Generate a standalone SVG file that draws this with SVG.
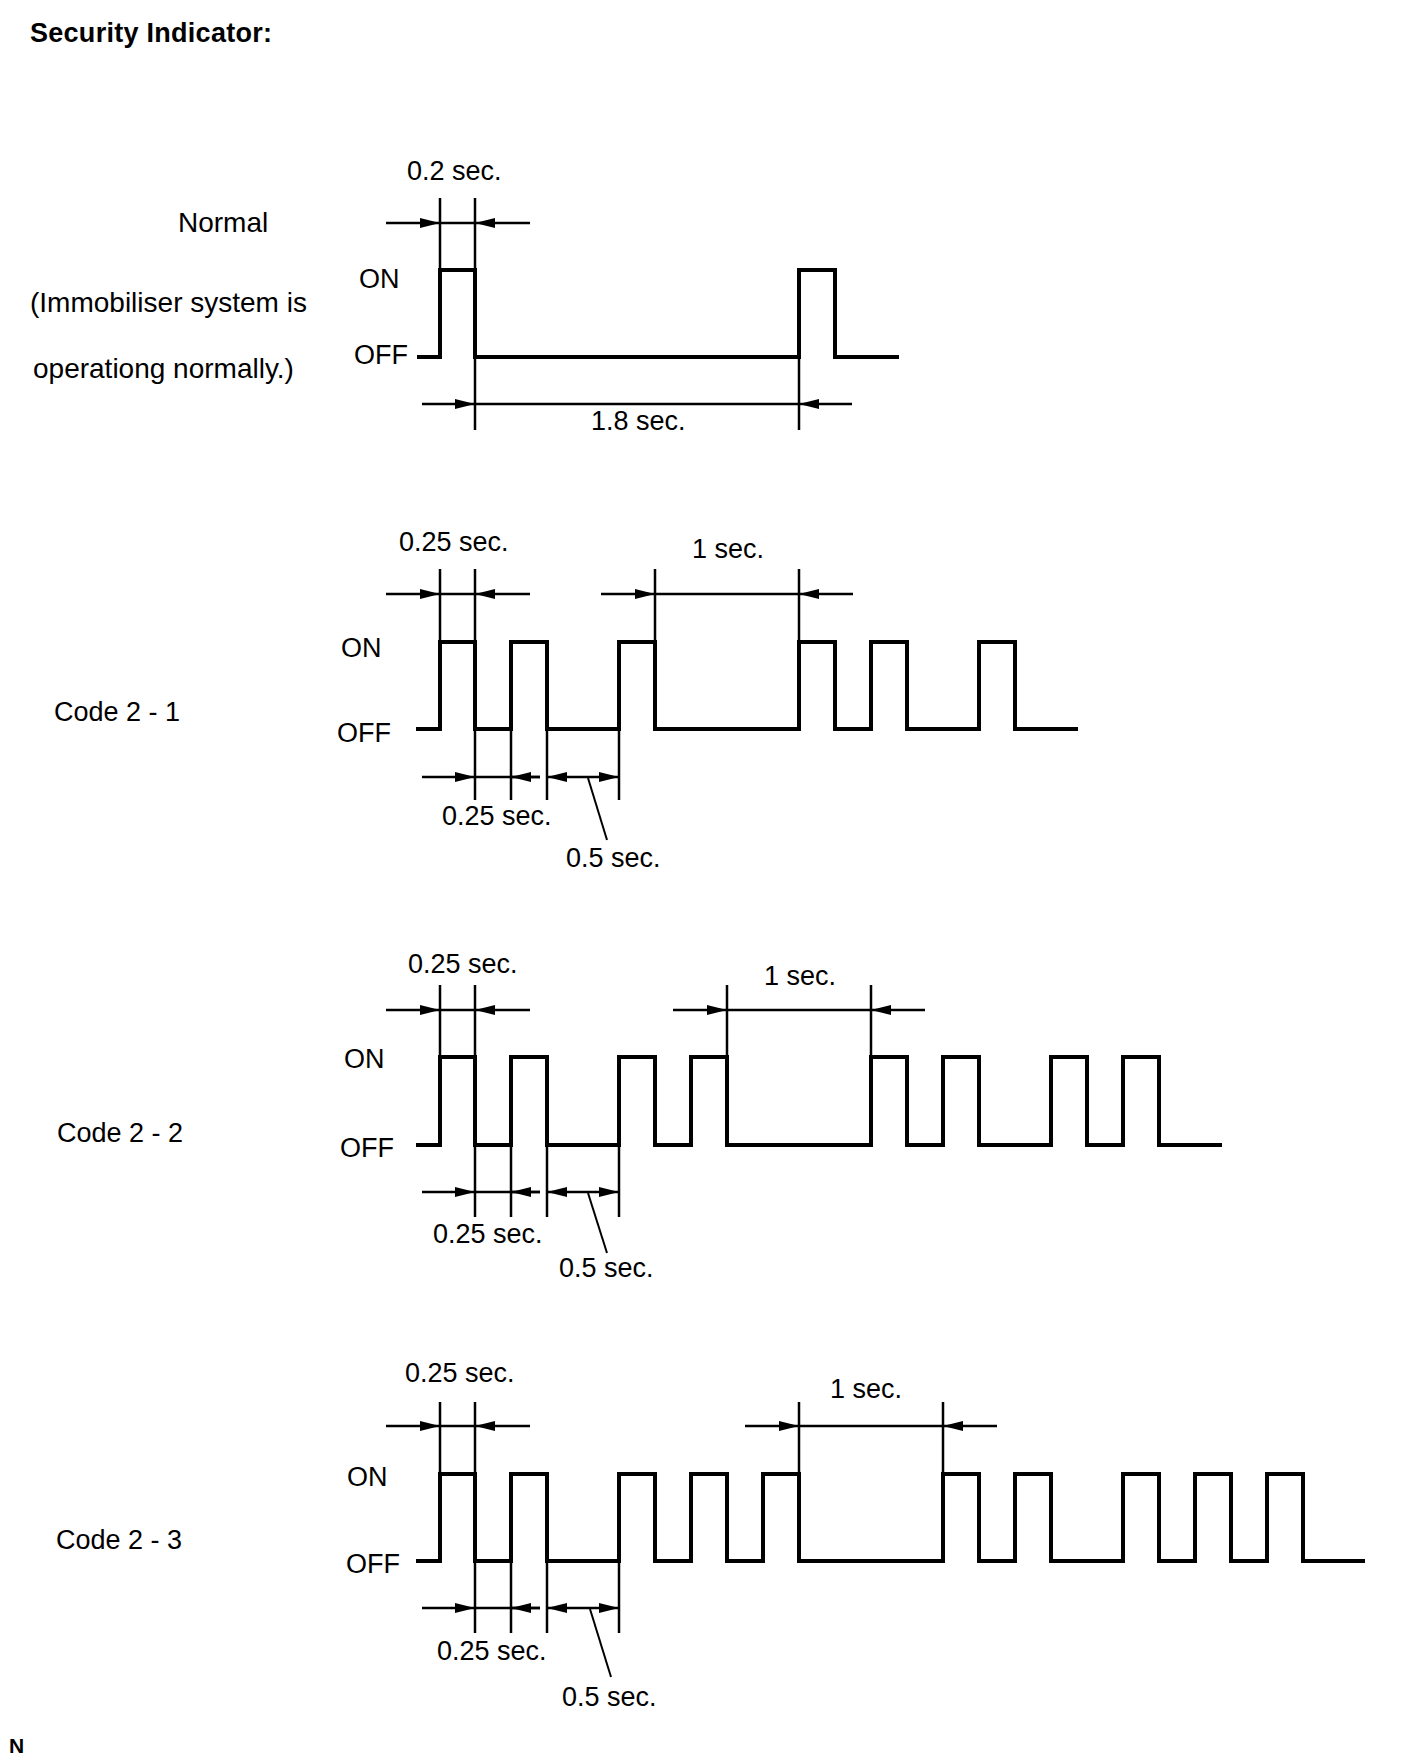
<svg xmlns="http://www.w3.org/2000/svg" width="1424" height="1763" viewBox="0 0 1424 1763">
<style>
text{font-family:"Liberation Sans",Arial,Helvetica,sans-serif;font-size:27px;fill:#000}
.b{font-weight:bold}
.w{fill:none;stroke:#000;stroke-width:4;stroke-linejoin:miter}
.d{fill:none;stroke:#000;stroke-width:2.5}
.a{fill:none;stroke:#000;stroke-width:2.5;marker-end:url(#ah)}
.l{fill:none;stroke:#000;stroke-width:2}
</style>
<defs>
<marker id="ah" markerUnits="userSpaceOnUse" markerWidth="20" markerHeight="10" refX="20" refY="5" orient="auto" viewBox="0 0 20 10">
<path d="M0,0 L20,5 L0,10 z" fill="#000"/>
</marker>
</defs>
<rect width="1424" height="1763" fill="#fff"/>
<text class="b" x="30" y="42" textLength="242">Security Indicator:</text>

<g id="normal">
<text x="178" y="232" style="font-size:28px">Normal</text>
<text x="30" y="312" style="font-size:28px">(Immobiliser system is</text>
<text x="33" y="378" style="font-size:28px">operationg normally.)</text>
<text x="359" y="288">ON</text>
<text x="354" y="364">OFF</text>
<text x="407" y="180">0.2 sec.</text>
<text x="591" y="430">1.8 sec.</text>
<path class="w" d="M417,357 H440 V270 H475 V357 H799 V270 H835 V357 H899"/>
</g>

<g id="code21">
<text x="54" y="721">Code 2 - 1</text>
<text x="341" y="657">ON</text>
<text x="337" y="742">OFF</text>
<text x="399" y="551">0.25 sec.</text>
<text x="692" y="558">1 sec.</text>
<text x="442" y="825">0.25 sec.</text>
<text x="566" y="867">0.5 sec.</text>
<path class="w" d="M416,729 H440 V642 H475 V729 H511 V642 H547 V729 H619 V642 H655 V729 H799 V642 H835 V729 H871 V642 H907 V729 H979 V642 H1015 V729 H1078"/>
</g>

<g id="code22">
<text x="57" y="1142">Code 2 - 2</text>
<text x="344" y="1068">ON</text>
<text x="340" y="1157">OFF</text>
<text x="408" y="973">0.25 sec.</text>
<text x="764" y="985">1 sec.</text>
<text x="433" y="1243">0.25 sec.</text>
<text x="559" y="1277">0.5 sec.</text>
<path class="w" d="M416,1145 H440 V1057 H475 V1145 H511 V1057 H547 V1145 H619 V1057 H655 V1145 H691 V1057 H727 V1145 H871 V1057 H907 V1145 H943 V1057 H979 V1145 H1051 V1057 H1087 V1145 H1123 V1057 H1159 V1145 H1222"/>
</g>

<g id="code23">
<text x="56" y="1549">Code 2 - 3</text>
<text x="347" y="1486">ON</text>
<text x="346" y="1573">OFF</text>
<text x="405" y="1382">0.25 sec.</text>
<text x="830" y="1398">1 sec.</text>
<text x="437" y="1660">0.25 sec.</text>
<text x="562" y="1706">0.5 sec.</text>
<path class="w" d="M416,1561 H440 V1474 H475 V1561 H511 V1474 H547 V1561 H619 V1474 H655 V1561 H691 V1474 H727 V1561 H763 V1474 H799 V1561 H943 V1474 H979 V1561 H1015 V1474 H1051 V1561 H1123 V1474 H1159 V1561 H1195 V1474 H1231 V1561 H1267 V1474 H1303 V1561 H1365"/>
</g>

<g id="connectors">
<!-- Normal -->
<path class="d" d="M440,198 V270 M475,198 V270 M475,357 V430 M799,357 V430 M440,223 H475 M475,404 H799"/>
<path class="a" d="M386,223 H440"/>
<path class="a" d="M530,223 H475"/>
<path class="a" d="M422,404 H475"/>
<path class="a" d="M852,404 H799"/>
<!-- Code 2-1 -->
<path class="d" d="M440,569 V642 M475,569 V642 M655,569 V642 M799,569 V642 M475,729 V800 M511,729 V800 M547,729 V800 M619,729 V800 M440,594 H475 M655,594 H799 M475,777 H540"/>
<path class="a" d="M386,594 H440"/>
<path class="a" d="M530,594 H475"/>
<path class="a" d="M601,594 H655"/>
<path class="a" d="M853,594 H799"/>
<path class="a" d="M422,777 H475"/>
<path class="a" d="M540,777 H511"/>
<path class="a" d="M583,777 H547"/>
<path class="a" d="M583,777 H619"/>
<path class="l" d="M588,778 L607,840"/>
<!-- Code 2-2 -->
<path class="d" d="M440,985 V1057 M475,985 V1057 M727,985 V1057 M871,985 V1057 M475,1145 V1217 M511,1145 V1217 M547,1145 V1217 M619,1145 V1217 M440,1010 H475 M727,1010 H871 M475,1192 H540"/>
<path class="a" d="M386,1010 H440"/>
<path class="a" d="M530,1010 H475"/>
<path class="a" d="M673,1010 H727"/>
<path class="a" d="M925,1010 H871"/>
<path class="a" d="M422,1192 H475"/>
<path class="a" d="M540,1192 H511"/>
<path class="a" d="M583,1192 H547"/>
<path class="a" d="M583,1192 H619"/>
<path class="l" d="M588,1193 L607,1253"/>
<!-- Code 2-3 -->
<path class="d" d="M440,1402 V1474 M475,1402 V1474 M799,1402 V1474 M943,1402 V1474 M475,1561 V1633 M511,1561 V1633 M547,1561 V1633 M619,1561 V1633 M440,1426 H475 M799,1426 H943 M475,1608 H540"/>
<path class="a" d="M386,1426 H440"/>
<path class="a" d="M530,1426 H475"/>
<path class="a" d="M745,1426 H799"/>
<path class="a" d="M997,1426 H943"/>
<path class="a" d="M422,1608 H475"/>
<path class="a" d="M540,1608 H511"/>
<path class="a" d="M583,1608 H547"/>
<path class="a" d="M583,1608 H619"/>
<path class="l" d="M590,1609 L611,1677"/>
</g>

<text class="b" x="9" y="1753" style="font-size:21px">N</text>
</svg>
